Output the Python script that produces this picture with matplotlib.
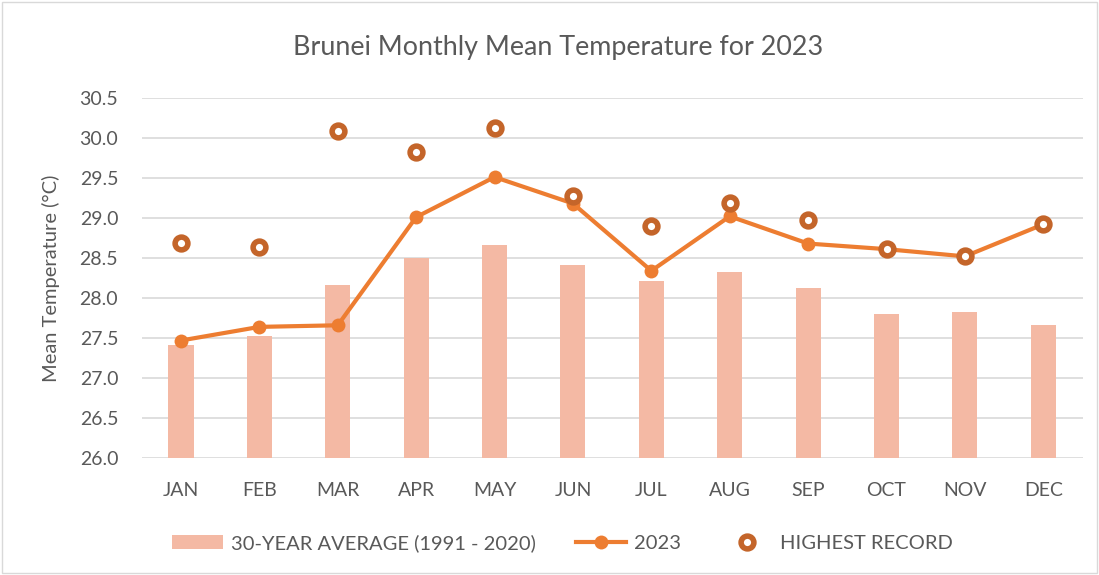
import numpy as np
import matplotlib.pyplot as plt
from matplotlib.patches import Rectangle

plt.rcParams['font.family'] = ['Lato', 'DejaVu Sans']

months = ['JAN', 'FEB', 'MAR', 'APR', 'MAY', 'JUN',
          'JUL', 'AUG', 'SEP', 'OCT', 'NOV', 'DEC']
avg_30yr = [27.41, 27.53, 28.16, 28.50, 28.66, 28.41,
            28.21, 28.32, 28.12, 27.80, 27.82, 27.66]
temp_2023 = [27.47, 27.64, 27.66, 29.01, 29.51, 29.18,
             28.34, 29.02, 28.68, 28.61, 28.52, 28.92]
highest = [28.69, 28.64, 30.09, 29.82, 30.12, 29.27,
           28.90, 29.19, 28.97, 28.61, 28.52, 28.92]

grey = '#595959'
fig = plt.figure(figsize=(10.99, 5.75), dpi=100)
ax = fig.add_axes([0.129, 0.203, 0.856, 0.627])

x = np.arange(len(months))
b = ax.bar(x, avg_30yr, width=0.32, bottom=0, color='#F4B9A4', zorder=2,
           label='30-YEAR AVERAGE (1991 - 2020)')
l, = ax.plot(x, temp_2023, '-o', color='#ED7D31', lw=3, ms=10, mew=0, zorder=3,
             label='2023')
h, = ax.plot(x, highest, 'o', ls='none', mfc='white', mec='#C4652A', ms=9.2, mew=4.0,
             zorder=4, label='HIGHEST RECORD')
ax.set_ylim(26.0, 30.5)
ax.set_xlim(-0.5, 11.5)
ax.set_yticks(np.arange(26.0, 30.51, 0.5))
ax.set_yticklabels(['%.1f' % v for v in np.arange(26.0, 30.51, 0.5)])
ax.set_xticks(x)
ax.set_xticklabels(months)
ax.tick_params(length=0, labelsize=14, labelcolor=grey)
ax.tick_params(axis='x', pad=17)
ax.tick_params(axis='y', pad=17)
ax.grid(axis='y', color='#D9D9D9', lw=1.2, zorder=0)
for s in ax.spines.values():
    s.set_visible(False)
ax.set_ylabel('Mean Temperature (°C)', fontsize=14.5, color=grey, labelpad=14)

fig.text(0.508, 0.918, 'Brunei Monthly Mean Temperature for 2023', ha='center',
         va='center', fontsize=19.4, color=grey)

fig.legend([b, l, h], [b.get_label(), l.get_label(), h.get_label()],
           loc='center', bbox_to_anchor=(0.512, 0.055), ncol=3, frameon=False,
           fontsize=14.5, labelcolor=grey, handlelength=2.5, columnspacing=2.0,
           handletextpad=0.4)

fig.patches.append(Rectangle((0.002, 0.003), 0.996, 0.994, transform=fig.transFigure,
                             fill=False, ec='#D9D9D9', lw=1))
fig.savefig('out.png', dpi=100, facecolor='white')
